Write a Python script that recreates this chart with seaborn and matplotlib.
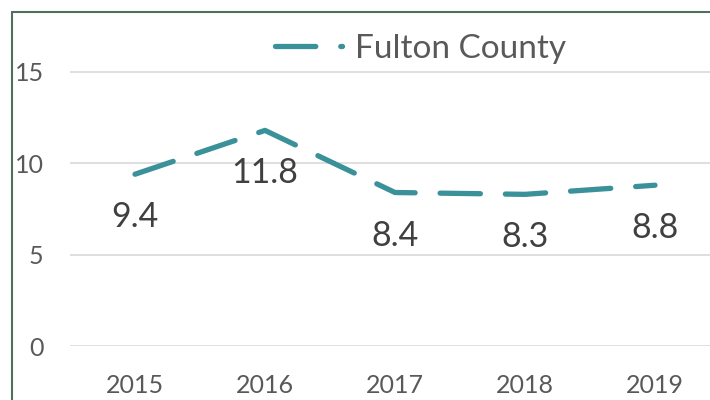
import matplotlib
matplotlib.use('Agg')
import matplotlib.pyplot as plt
import seaborn as sns
import pandas as pd
from matplotlib.lines import Line2D

# data
years = ['2015', '2016', '2017', '2018', '2019']
fulton = [9.4, 11.8, 8.4, 8.3, 8.8]
series_name = 'Fulton County'

df = pd.DataFrame({'Year': years, 'Rate': fulton})

sns.set_style('white')
plt.rcParams['font.family'] = ['Lato', 'DejaVu Sans']
plt.rcParams['lines.scale_dashes'] = False

teal = '#3A9199'
fig = plt.figure(figsize=(7.1, 4.0), dpi=100)
# plot area in pixels: left 70, right 710, top 12, bottom 346
ax = fig.add_axes([70 / 710, 1 - 346 / 400, 640 / 710, (346 - 12) / 400])

ax.grid(axis='y', color='#D9D9D9', linewidth=1.2)
ax.set_axisbelow(True)

sns.lineplot(data=df, x='Year', y='Rate', ax=ax, color=teal, linewidth=3.8,
             linestyle=(0, (29, 18)), dash_capstyle='round', solid_capstyle='round',
             sort=False)

ax.set_xlim(-0.5, 4.423)
ax.set_ylim(0, 18.28)
ax.set_yticks([0, 5, 10, 15])
for s in ax.spines.values():
    s.set_visible(False)
ax.tick_params(axis='both', length=0, labelsize=18, labelcolor='#595959')
ax.tick_params(axis='y', pad=19)
ax.tick_params(axis='x', pad=20)
ax.set_xlabel('')
ax.set_ylabel('')

# data labels under each point
for i, v in enumerate(fulton):
    ax.annotate(f'{v}', (i, v), xytext=(0, -31), textcoords='offset points',
                ha='center', va='center', fontsize=24.5, color='#404040')

# legend
handle = Line2D([], [], color=teal, linewidth=3.8, linestyle=(0, (29, 18)),
                dash_capstyle='round')
fig.legend([handle], [series_name], loc='center', bbox_to_anchor=(421 / 710, 1 - 49 / 400),
           frameon=False, fontsize=24, handlelength=2.0, handletextpad=0.4,
           labelcolor='#595959')

# chart frame (left and top edges visible)
frame = '#4F6F5F'
fig.add_artist(Line2D([12 / 710, 12 / 710], [0, 1 - 12 / 400], transform=fig.transFigure,
                      color=frame, linewidth=1.5))
fig.add_artist(Line2D([12 / 710, 1], [1 - 12 / 400, 1 - 12 / 400], transform=fig.transFigure,
                      color=frame, linewidth=1.5))

fig.savefig('out.png', dpi=100)
